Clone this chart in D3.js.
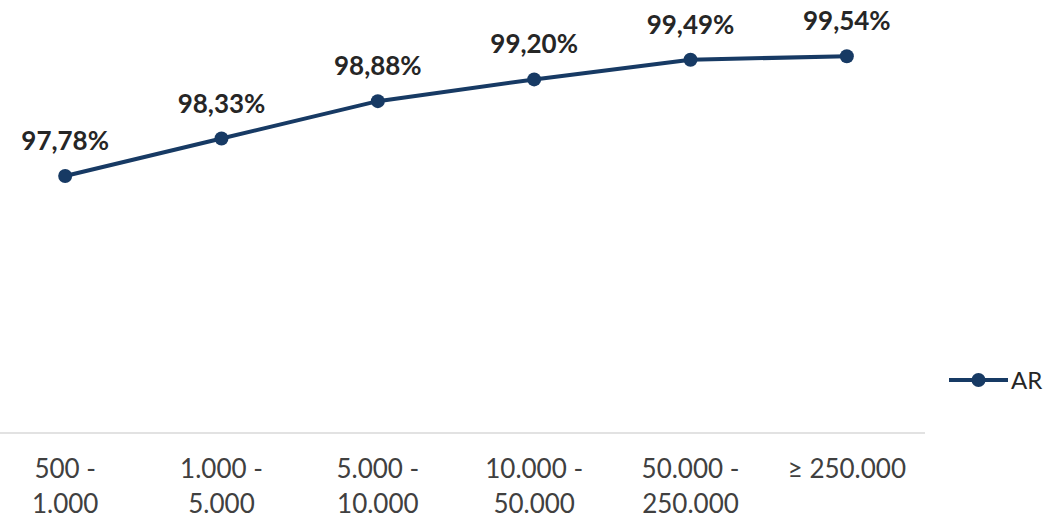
<!DOCTYPE html>
<html>
<head>
<meta charset="utf-8">
<script src="https://cdn.jsdelivr.net/npm/d3@7"></script>
<style>
	body { margin: 0; background: #fff; }
	svg { display: block; }
</style>
</head>
<body>
<div id="chart"></div>
<script>
const categories = ['500 - 1.000', '1.000 - 5.000', '5.000 - 10.000', '10.000 - 50.000', '50.000 - 250.000', '≥ 250.000'];
const tickLines = [['500 -', '1.000'], ['1.000 -', '5.000'], ['5.000 -', '10.000'], ['10.000 -', '50.000'], ['50.000 -', '250.000'], ['≥ 250.000']];
const values = [97.78, 98.33, 98.88, 99.2, 99.49, 99.54];
const seriesName = 'AR';

const width = 1047;
const height = 522;
const color = '#173a64';
const font = 'Lato, "Liberation Sans", sans-serif';
const fmt = (v) => d3.format('.2f')(v).replace('.', ',') + '%';

const svg = d3.select('#chart').append('svg').attr('width', width).attr('height', height);

const x = d3.scaleBand().domain(categories).range([-13, 925]);
const y = d3.scaleLinear().domain([94, 100]).range([433, 25]);

// baseline
svg.append('line')
	.attr('x1', 0).attr('x2', 925)
	.attr('y1', y(94)).attr('y2', y(94))
	.attr('stroke', '#d9d9d9').attr('stroke-width', 1.5);

// category labels
const ticks = svg.append('g')
	.attr('font-family', font)
	.attr('font-size', 26)
	.attr('fill', '#404040')
	.attr('text-anchor', 'middle');
categories.forEach((c, i) => {
	const t = ticks.append('text').attr('x', x(c) + x.bandwidth() / 2).attr('y', 478);
	tickLines[i].forEach((l, j) => t.append('tspan').attr('x', x(c) + x.bandwidth() / 2).attr('dy', j ? 35 : 0).text(l));
});

const cx = (d, i) => x(categories[i]) + x.bandwidth() / 2;

const line = d3.line().x(cx).y((d) => y(d));
svg.append('path')
	.datum(values)
	.attr('d', line)
	.attr('fill', 'none')
	.attr('stroke', color)
	.attr('stroke-width', 4)
	.attr('stroke-linejoin', 'round');

svg.append('g').selectAll('circle')
	.data(values)
	.join('circle')
	.attr('cx', cx)
	.attr('cy', (d) => y(d))
	.attr('r', 7)
	.attr('fill', color);

svg.append('g')
	.attr('font-family', font)
	.attr('font-weight', 'bold')
	.attr('font-size', 26)
	.attr('fill', '#262626')
	.attr('text-anchor', 'middle')
	.selectAll('text')
	.data(values)
	.join('text')
	.attr('x', cx)
	.attr('y', (d) => y(d) - 26)
	.text(fmt);

// legend
const lg = svg.append('g').attr('transform', 'translate(949,380)');
lg.append('line').attr('x1', 0).attr('x2', 59).attr('stroke', color).attr('stroke-width', 4);
lg.append('circle').attr('cx', 29.5).attr('r', 7).attr('fill', color);
lg.append('text')
	.attr('x', 62).attr('y', 9)
	.attr('font-family', font)
	.attr('font-size', 24)
	.attr('fill', '#262626')
	.text(seriesName);
</script>
</body>
</html>
